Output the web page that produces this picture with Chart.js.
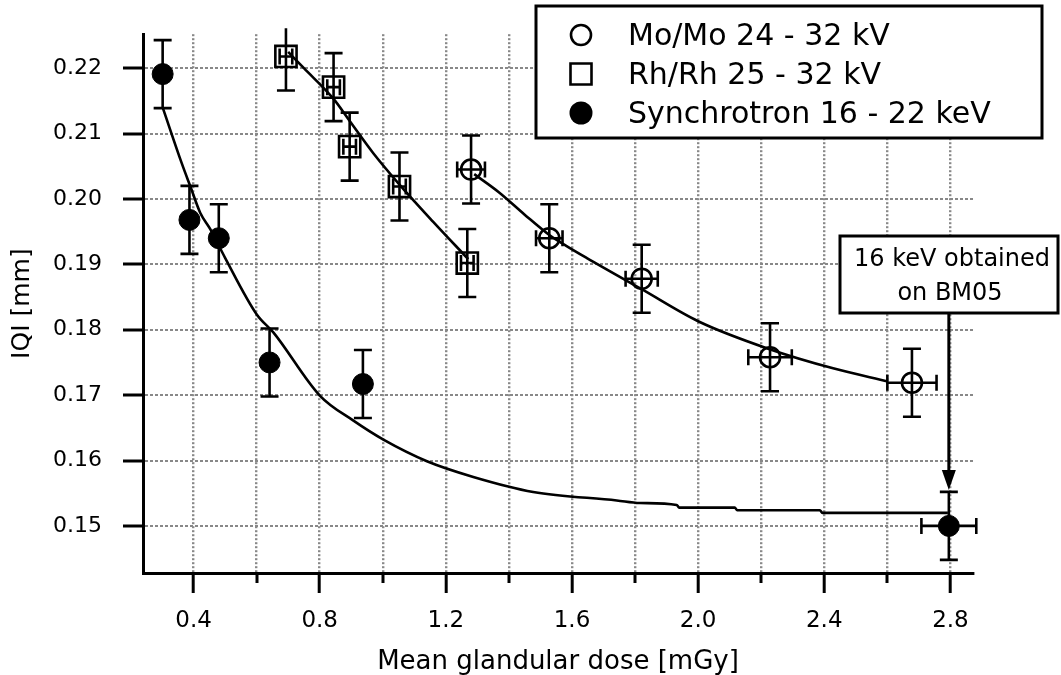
<!DOCTYPE html>
<html>
<head>
<meta charset="utf-8">
<title>IQI vs mean glandular dose</title>
<script src="https://cdn.jsdelivr.net/npm/chart.js@4.4.1/dist/chart.umd.min.js"></script>
<style>
  html, body { margin: 0; padding: 0; background: #fff; }
  #wrap { width: 1061px; height: 675px; }
</style>
</head>
<body>
<div id="wrap"><canvas id="iqiChart" width="1061" height="675"></canvas></div>
<script>
// measured points (dose in mGy, IQI in mm)
var moDose = [1.280, 1.528, 1.821, 2.228, 2.678];
var moIqi = [0.2045, 0.1940, 0.1878, 0.1758, 0.1719];
var moDoseErr = [0.044, 0.042, 0.051, 0.069, 0.078];
var moIqiErr = [0.0052, 0.0052, 0.0052, 0.0052, 0.0052];

var rhDose = [0.693, 0.844, 0.895, 1.053, 1.268];
var rhIqi = [0.2218, 0.2171, 0.2080, 0.2019, 0.1902];
var rhDoseErr = [0.02, 0.02, 0.02, 0.02, 0.02];
var rhIqiErr = [0.0052, 0.0052, 0.0052, 0.0052, 0.0052];

var synDose = [0.302, 0.387, 0.480, 0.641, 0.937, 2.795];
var synIqi = [0.2191, 0.1968, 0.1940, 0.1750, 0.1717, 0.1500];
var synDoseErr = [0, 0, 0, 0, 0, 0.087];
var synIqiErr = [0.0052, 0.0052, 0.0052, 0.0052, 0.0052, 0.0052];

// fitted curves as drawn in the figure
var moFitDose = [1.29, 1.369, 1.45, 1.528, 1.583, 1.646, 1.821, 2.0, 2.222, 2.428, 2.602];
var moFitIqi = [0.2038, 0.2010, 0.1976, 0.1945, 0.1928, 0.1910, 0.1862, 0.1813, 0.1771, 0.1741, 0.1721];

var rhFitDose = [0.70, 0.75, 0.844, 0.894, 0.97, 1.053, 1.16, 1.271];
var rhFitIqi = [0.2225, 0.2200, 0.2153, 0.2120, 0.2070, 0.2022, 0.1965, 0.1908];

var synFitDose = [0.302, 0.363, 0.39, 0.421, 0.453, 0.5, 0.601, 0.653, 0.801, 0.907, 1.002, 1.14, 1.287, 1.477, 1.742, 1.815, 1.932, 1.94, 2.116, 2.124, 2.386, 2.394, 2.792];
var synFitIqi = [0.2140, 0.2054, 0.2019, 0.1979, 0.1954, 0.1910, 0.1823, 0.1796, 0.1699, 0.1661, 0.1632, 0.1599, 0.1575, 0.1552, 0.1539, 0.1535, 0.1532, 0.1528, 0.1528, 0.1524, 0.1524, 0.1520, 0.1520];

var xTicks = [0.4, 0.6, 0.8, 1.0, 1.2, 1.4, 1.6, 1.8, 2.0, 2.2, 2.4, 2.6, 2.8];
var xTickLabels = ['0.4', '', '0.8', '', '1.2', '', '1.6', '', '2.0', '', '2.4', '', '2.8'];
var yTicks = [0.15, 0.16, 0.17, 0.18, 0.19, 0.20, 0.21, 0.22];
var yTickLabels = ['0.15', '0.16', '0.17', '0.18', '0.19', '0.20', '0.21', '0.22'];

var legendLabels = ['Mo/Mo 24 - 32 kV', 'Rh/Rh 25 - 32 kV', 'Synchrotron 16 - 22 keV'];
var noteLines = ['16 keV obtained', 'on BM05'];

var FONT = '"DejaVu Sans", sans-serif';

function pts(xs, ys) {
	return xs.map(function (x, i) { return { x: x, y: ys[i] }; });
}

// error bars, drawn under the markers
var errorBars = {
	id: 'errorBars',
	beforeDatasetsDraw: function (chart) {
		var ctx = chart.ctx, xs = chart.scales.x, ys = chart.scales.y, a = chart.chartArea;
		ctx.save();
		ctx.beginPath();
		ctx.rect(a.left - 40, a.top - 6, a.right - a.left + 80, a.bottom - a.top + 40);
		ctx.clip();
		ctx.strokeStyle = '#000';
		ctx.lineWidth = 2.6;
		chart.data.datasets.forEach(function (ds) {
			if (!ds.yErr) return;
			ds.data.forEach(function (p, i) {
				var px = xs.getPixelForValue(p.x), py = ys.getPixelForValue(p.y);
				var ey = ds.yErr[i], ex = ds.xErr[i];
				ctx.beginPath();
				if (ey) {
					var t = ys.getPixelForValue(p.y + ey), b = ys.getPixelForValue(p.y - ey);
					ctx.moveTo(px, t); ctx.lineTo(px, b);
					ctx.moveTo(px - 9, t); ctx.lineTo(px + 9, t);
					ctx.moveTo(px - 9, b); ctx.lineTo(px + 9, b);
				}
				if (ex) {
					var l = xs.getPixelForValue(p.x - ex), r = xs.getPixelForValue(p.x + ex);
					ctx.moveTo(l, py); ctx.lineTo(r, py);
					ctx.moveTo(l, py - 8); ctx.lineTo(l, py + 8);
					ctx.moveTo(r, py - 8); ctx.lineTo(r, py + 8);
				}
				ctx.stroke();
			});
		});
		ctx.restore();
	}
};

// short ticks for the unlabelled x positions, legend box and the BM05 note
var extras = {
	id: 'extras',
	afterDraw: function (chart) {
		var ctx = chart.ctx, xs = chart.scales.x, ys = chart.scales.y, a = chart.chartArea;
		ctx.save();
		ctx.strokeStyle = '#000';
		ctx.lineWidth = 3;
		ctx.beginPath();
		xTicks.forEach(function (v, i) {
			if (xTickLabels[i]) return;
			var px = Math.round(xs.getPixelForValue(v));
			ctx.moveTo(px, a.bottom); ctx.lineTo(px, a.bottom + 10);
		});
		ctx.stroke();

		// legend
		var lx = 536, ly = 6, lw = 506, lh = 132;
		ctx.fillStyle = '#fff';
		ctx.fillRect(lx, ly, lw, lh);
		ctx.lineWidth = 3;
		ctx.strokeRect(lx, ly, lw, lh);
		ctx.font = '30px ' + FONT;
		ctx.textBaseline = 'alphabetic';
		ctx.textAlign = 'left';
		legendLabels.forEach(function (txt, i) {
			var my = 35 + i * 39, mx = 581;
			ctx.lineWidth = 2.6;
			ctx.fillStyle = '#000';
			ctx.beginPath();
			if (i === 0) {
				ctx.arc(mx, my, 10, 0, Math.PI * 2); ctx.stroke();
			} else if (i === 1) {
				ctx.rect(mx - 10.5, my - 10.5, 21, 21); ctx.stroke();
			} else {
				ctx.arc(mx, my, 11.5, 0, Math.PI * 2); ctx.fill();
			}
			ctx.fillText(txt, 628, my + 10);
		});

		// note box with arrow to the 16 keV point
		var bx = 840, by = 236, bw = 218, bh = 77;
		ctx.fillStyle = '#fff';
		ctx.fillRect(bx, by, bw, bh);
		ctx.lineWidth = 3;
		ctx.strokeRect(bx, by, bw, bh);
		ctx.fillStyle = '#000';
		ctx.font = '24px ' + FONT;
		ctx.textAlign = 'center';
		ctx.fillText(noteLines[0], bx + bw / 2 + 3, 266);
		ctx.fillText(noteLines[1], bx + bw / 2 + 1, 300);

		var ax = xs.getPixelForValue(synDose[5]);
		var tip = ys.getPixelForValue(synIqi[5] + synIqiErr[5]) - 2;
		ctx.lineWidth = 3;
		ctx.beginPath();
		ctx.moveTo(ax, by + bh); ctx.lineTo(ax, tip - 18);
		ctx.stroke();
		ctx.beginPath();
		ctx.moveTo(ax - 7, tip - 20); ctx.lineTo(ax + 7, tip - 20); ctx.lineTo(ax, tip);
		ctx.closePath();
		ctx.fill();
		ctx.restore();
	}
};

Chart.defaults.color = '#000';
Chart.defaults.font.family = FONT;

var curve = { showLine: true, borderColor: '#000', borderWidth: 2.6, pointRadius: 0, cubicInterpolationMode: 'monotone' };

var ctx = document.getElementById('iqiChart').getContext('2d');
var chart = new Chart(ctx, {
	type: 'scatter',
	data: {
		datasets: [
			Object.assign({ data: pts(moFitDose, moFitIqi) }, curve),
			Object.assign({ data: pts(rhFitDose, rhFitIqi) }, curve),
			Object.assign({ data: pts(synFitDose, synFitIqi) }, curve),
		{
			label: legendLabels[0],
			data: pts(moDose, moIqi), xErr: moDoseErr, yErr: moIqiErr,
			pointStyle: 'circle', pointRadius: 10, borderWidth: 2.6,
			borderColor: '#000', backgroundColor: 'rgba(0,0,0,0)'
		}, {
			label: legendLabels[1],
			data: pts(rhDose, rhIqi), xErr: rhDoseErr, yErr: rhIqiErr,
			pointStyle: 'rect', pointRadius: 15, borderWidth: 2.6,
			borderColor: '#000', backgroundColor: 'rgba(0,0,0,0)'
		}, {
			label: legendLabels[2],
			data: pts(synDose, synIqi), xErr: synDoseErr, yErr: synIqiErr,
			pointStyle: 'circle', pointRadius: 10.5, borderWidth: 1,
			borderColor: '#000', backgroundColor: '#000'
		}]
	},
	options: {
		responsive: false,
		animation: false,
		devicePixelRatio: 1,
		layout: { padding: { top: 21, right: 88, left: 0, bottom: 0 } },
		plugins: {
			legend: { display: false },
			tooltip: { enabled: false }
		},
		scales: {
			x: {
				type: 'linear',
				min: 0.2397, max: 2.8716,
				afterBuildTicks: function (s) { s.ticks = xTicks.map(function (v) { return { value: v }; }); },
				afterFit: function (s) { s.height = 102; },
				ticks: {
					padding: 14,
					font: { size: 23 },
					callback: function (v, i) { return xTickLabels[i]; }
				},
				grid: {
					color: '#888', lineWidth: 2.4,
					tickLength: 20, tickWidth: 3,
					tickColor: function (c) { return xTickLabels[c.index] ? '#000' : 'rgba(0,0,0,0)'; }
				},
				border: { display: true, color: '#000', width: 3, dash: [2, 2] },
				title: {
					display: true, text: 'Mean glandular dose [mGy]',
					font: { size: 26, lineHeight: 1 }, padding: { top: 0, bottom: 0 }
				}
			},
			y: {
				type: 'linear',
				min: 0.1428, max: 0.2252,
				afterBuildTicks: function (s) { s.ticks = yTicks.map(function (v) { return { value: v }; }); },
				afterFit: function (s) { s.width = 143; },
				ticks: {
					padding: 21,
					font: { size: 22 },
					callback: function (v, i) { return yTickLabels[i]; }
				},
				grid: {
					color: '#888', lineWidth: 2,
					tickLength: 20, tickWidth: 3, tickColor: '#000'
				},
				border: { display: true, color: '#000', width: 3, dash: [3, 2] },
				title: {
					display: true, text: 'IQI [mm]',
					font: { size: 25 }, padding: { top: 7, bottom: 0 }
				}
			}
		}
	},
	plugins: [errorBars, extras]
});
</script>
</body>
</html>
